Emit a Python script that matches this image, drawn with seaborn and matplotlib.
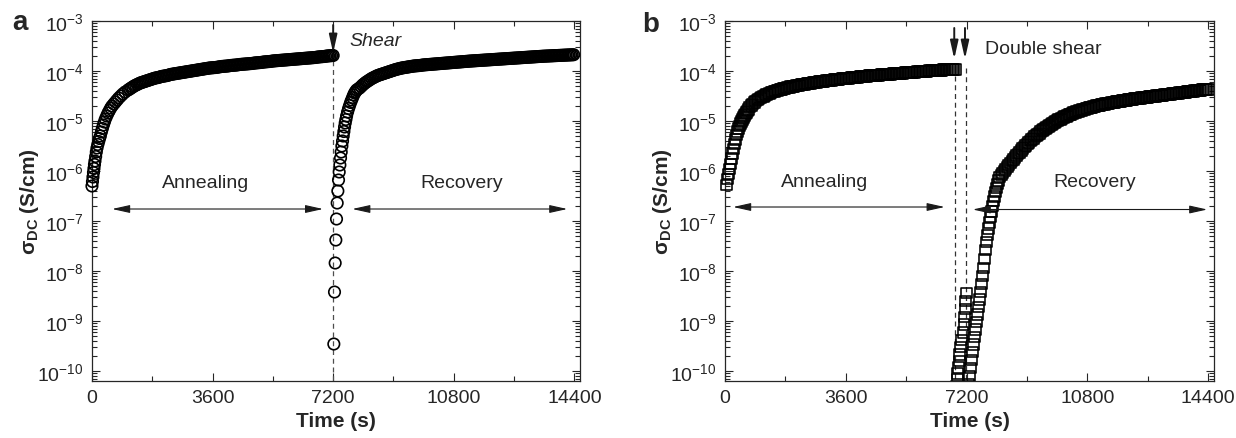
import numpy as np
import matplotlib
matplotlib.use("Agg")
import matplotlib.pyplot as plt
import seaborn as sns
from matplotlib.ticker import LogLocator, NullFormatter, MultipleLocator, LogFormatterSciNotation

sns.set_theme(style="ticks")
plt.rcParams["font.family"] = ["Liberation Sans", "DejaVu Sans"]
plt.rcParams["mathtext.fontset"] = "custom"
plt.rcParams["mathtext.rm"] = "Liberation Sans"
plt.rcParams["mathtext.bf"] = "Liberation Sans:bold"
plt.rcParams["mathtext.it"] = "Liberation Sans:italic"

# ---- data: log10 of sigma_DC (S/cm) ----

# panel a, annealing: early fine sampling, then every 45 s from 1080 s
a_anneal_t_early = [0, 15, 30, 45, 60, 75, 90, 110, 130, 150, 175, 200, 225, 250,
                    280, 310, 340, 370, 400, 440, 480, 520, 560, 600, 650, 700,
                    750, 800, 860, 920, 990]
a_anneal_log_early = [-6.30, -6.21, -6.12, -6.03, -5.95, -5.87, -5.80, -5.71, -5.62,
                      -5.54, -5.47, -5.41, -5.35, -5.30, -5.22, -5.15, -5.08, -5.02,
                      -4.96, -4.90, -4.84, -4.79, -4.74, -4.70, -4.66, -4.62, -4.58,
                      -4.54, -4.50, -4.46, -4.42]
a_anneal_grid_start = 1080
a_anneal_log_grid = [
    -4.380, -4.360, -4.340, -4.320, -4.300, -4.285, -4.270, -4.255, -4.240, -4.230,
    -4.220, -4.210, -4.200, -4.190, -4.180, -4.170, -4.160, -4.150, -4.140, -4.135,
    -4.130, -4.120, -4.110, -4.105, -4.100, -4.095, -4.090, -4.080, -4.070, -4.065,
    -4.060, -4.055, -4.050, -4.045, -4.040, -4.035, -4.030, -4.025, -4.020, -4.015,
    -4.010, -4.005, -4.000, -3.995, -3.990, -3.985, -3.980, -3.975, -3.970, -3.965,
    -3.960, -3.955, -3.950, -3.945, -3.940, -3.937, -3.935, -3.932, -3.930, -3.925,
    -3.920, -3.915, -3.910, -3.907, -3.905, -3.902, -3.900, -3.895, -3.890, -3.887,
    -3.885, -3.882, -3.880, -3.875, -3.870, -3.867, -3.865, -3.862, -3.860, -3.857,
    -3.855, -3.852, -3.850, -3.845, -3.840, -3.837, -3.835, -3.832, -3.830, -3.825,
    -3.820, -3.817, -3.815, -3.812, -3.810, -3.805, -3.800, -3.797, -3.795, -3.792,
    -3.790, -3.787, -3.785, -3.782, -3.780, -3.777, -3.775, -3.772, -3.770, -3.767,
    -3.765, -3.762, -3.760, -3.757, -3.755, -3.752, -3.750, -3.747, -3.745, -3.742,
    -3.740, -3.737, -3.735, -3.732, -3.730, -3.725, -3.720, -3.717, -3.715, -3.712,
    -3.710, -3.705, -3.700, -3.697, -3.695, -3.692, -3.690]

# panel a, recovery after the shear at 7200 s
a_rec_t_early = [7220, 7240, 7260, 7280, 7300, 7320, 7340, 7360, 7380, 7400, 7420,
                 7440, 7460, 7480, 7500, 7520, 7540, 7560, 7580, 7600, 7630, 7660,
                 7690, 7720, 7750, 7780, 7810, 7840, 7870, 7900]
a_rec_log_early = [-9.46, -8.42, -7.84, -7.38, -6.96, -6.64, -6.40, -6.18, -6.02,
                   -5.88, -5.74, -5.62, -5.50, -5.40, -5.30, -5.21, -5.12, -5.04,
                   -4.97, -4.90, -4.82, -4.75, -4.69, -4.63, -4.58, -4.53, -4.48,
                   -4.44, -4.41, -4.38]
a_rec_grid_start = 7945
a_rec_log_grid = [
    -4.360, -4.340, -4.310, -4.280, -4.255, -4.230, -4.210, -4.190, -4.170, -4.150,
    -4.135, -4.120, -4.105, -4.090, -4.080, -4.070, -4.060, -4.050, -4.040, -4.030,
    -4.020, -4.010, -4.000, -3.990, -3.980, -3.970, -3.962, -3.955, -3.947, -3.940,
    -3.935, -3.930, -3.925, -3.920, -3.915, -3.910, -3.905, -3.900, -3.897, -3.895,
    -3.892, -3.890, -3.885, -3.880, -3.877, -3.875,
    -3.872, -3.870, -3.867, -3.865, -3.862, -3.860, -3.857, -3.855, -3.852, -3.850,
    -3.847, -3.845, -3.842, -3.840, -3.837, -3.835, -3.832, -3.830, -3.827, -3.825,
    -3.822, -3.820, -3.817, -3.815, -3.812, -3.810, -3.807, -3.805, -3.802, -3.800,
    -3.798, -3.796, -3.794, -3.792, -3.790, -3.788, -3.786, -3.784, -3.782, -3.780,
    -3.778, -3.776, -3.774, -3.772, -3.770, -3.768, -3.766, -3.764, -3.762, -3.760,
    -3.758, -3.756, -3.754, -3.752, -3.750, -3.748, -3.746, -3.744, -3.742, -3.740,
    -3.738, -3.736, -3.734, -3.732, -3.730, -3.728, -3.726, -3.724, -3.722, -3.720,
    -3.718, -3.716, -3.714, -3.712, -3.710, -3.708, -3.706, -3.704,
    -3.703, -3.701, -3.700, -3.698, -3.697, -3.695, -3.694, -3.692, -3.691, -3.689,
    -3.688, -3.686, -3.685, -3.683, -3.682, -3.680, -3.679, -3.677, -3.676, -3.674]

# panel b, annealing: every 30 s from 40 s, then every 45 s from 740 s
b_anneal_early_start = 40
b_anneal_log_early = [-6.28, -6.16, -6.06, -5.96, -5.86, -5.75, -5.65, -5.56, -5.46,
                      -5.37, -5.28, -5.21, -5.15, -5.10, -5.05, -5.01, -4.97, -4.93,
                      -4.89, -4.86, -4.83, -4.80, -4.77]
b_anneal_grid_start = 740
b_anneal_log_grid = [
    -4.720, -4.690, -4.660, -4.630, -4.600, -4.580, -4.560, -4.540, -4.520, -4.505,
    -4.490, -4.475, -4.460, -4.445, -4.430, -4.420, -4.410, -4.400, -4.390, -4.380,
    -4.370, -4.362, -4.355, -4.347, -4.340, -4.332, -4.325, -4.317, -4.310, -4.305,
    -4.300, -4.292, -4.285, -4.280, -4.275, -4.270, -4.265, -4.260, -4.255, -4.250,
    -4.245, -4.240, -4.235, -4.230, -4.225, -4.220, -4.215, -4.212, -4.210, -4.205,
    -4.200, -4.195, -4.190, -4.187, -4.185, -4.180, -4.175, -4.172, -4.170, -4.165,
    -4.160, -4.157, -4.155, -4.152, -4.150, -4.145, -4.140, -4.137, -4.135, -4.132,
    -4.130, -4.125, -4.120, -4.117, -4.115, -4.112, -4.110, -4.105, -4.100, -4.097,
    -4.095, -4.092, -4.090,
    -4.088, -4.085, -4.083, -4.080, -4.078, -4.075, -4.073, -4.070, -4.068, -4.065,
    -4.063, -4.060, -4.058, -4.055, -4.053, -4.050, -4.048, -4.045, -4.043, -4.040,
    -4.038, -4.035, -4.033, -4.030, -4.028, -4.025, -4.023, -4.020, -4.018, -4.015,
    -4.013, -4.010, -4.008, -4.005, -4.003, -4.000, -3.998, -3.995,
    -3.993, -3.991, -3.989, -3.987, -3.985, -3.983, -3.981, -3.979, -3.977, -3.975,
    -3.973, -3.971, -3.969, -3.967, -3.965, -3.963]

# panel b, between the two shears
b_mid_t = [6880, 6900, 6920, 6940, 6960, 6980, 7000, 7030, 7060, 7090, 7120, 7140,
           7160, 7175, 7185]
b_mid_log = [-10.45, -10.30, -10.17, -10.05, -9.93, -9.80, -9.67, -9.52, -9.38,
             -9.23, -9.07, -8.92, -8.76, -8.60, -8.44]

# panel b, recovery after the second shear: every 30 s, then every 45 s from 8235 s
b_rec_early_start = 7200
b_rec_log_early = [
    -10.60, -10.42, -10.26, -10.10, -9.94, -9.78, -9.62, -9.47, -9.32, -9.17,
    -9.02, -8.87, -8.72, -8.57, -8.42, -8.26, -8.10, -7.94, -7.76, -7.58,
    -7.42, -7.28, -7.15, -7.03, -6.92, -6.81, -6.70, -6.60, -6.51, -6.42,
    -6.34, -6.26, -6.19, -6.12]
b_rec_grid_start = 8235
b_rec_log_grid = [
    -6.080, -6.040, -6.000, -5.960, -5.920, -5.880, -5.840, -5.800, -5.765, -5.730,
    -5.695, -5.660, -5.625, -5.590, -5.555, -5.520, -5.490, -5.460, -5.430, -5.400,
    -5.372, -5.345, -5.318, -5.292, -5.267, -5.242, -5.218, -5.195, -5.172, -5.150,
    -5.128, -5.107, -5.087, -5.067, -5.048, -5.030, -5.012, -4.995, -4.978, -4.962,
    -4.946, -4.931, -4.916, -4.902, -4.888, -4.875, -4.862, -4.850, -4.838, -4.827,
    -4.816, -4.805, -4.795, -4.785, -4.775, -4.766, -4.757, -4.748, -4.739, -4.731,
    -4.723, -4.715, -4.707, -4.699, -4.692, -4.685, -4.678, -4.671, -4.664, -4.658,
    -4.652, -4.646, -4.640, -4.634, -4.628, -4.622, -4.617, -4.612, -4.607, -4.602,
    -4.597, -4.592, -4.587, -4.582, -4.577, -4.572, -4.567, -4.563, -4.559, -4.555,
    -4.551, -4.547, -4.543, -4.539, -4.535, -4.531, -4.527, -4.523, -4.519, -4.515,
    -4.511, -4.507, -4.503, -4.499, -4.495, -4.491, -4.487, -4.483, -4.479, -4.475,
    -4.471, -4.467, -4.463, -4.459, -4.455, -4.451, -4.447, -4.443, -4.439, -4.435,
    -4.431, -4.427, -4.423, -4.419, -4.415, -4.411, -4.407, -4.403, -4.399, -4.395,
    -4.391, -4.387, -4.383, -4.379, -4.375, -4.372, -4.369, -4.366]

shear_a = 7200
shears_b = [6860, 7180]
x_ticks = [0, 3600, 7200, 10800, 14400]
y_decades = [-10, -9, -8, -7, -6, -5, -4, -3]


def grid_times(start, values, step):
    return start + step * np.arange(len(values))


a_t = np.concatenate([a_anneal_t_early, grid_times(a_anneal_grid_start, a_anneal_log_grid, 45)])
a_y = 10.0 ** np.array(a_anneal_log_early + a_anneal_log_grid)
a2_t = np.concatenate([a_rec_t_early, grid_times(a_rec_grid_start, a_rec_log_grid, 45)])
a2_y = 10.0 ** np.array(a_rec_log_early + a_rec_log_grid)

b_t = np.concatenate([grid_times(b_anneal_early_start, b_anneal_log_early, 30),
                      grid_times(b_anneal_grid_start, b_anneal_log_grid, 45)])
b_y = 10.0 ** np.array(b_anneal_log_early + b_anneal_log_grid)
bm_t = np.array(b_mid_t)
bm_y = 10.0 ** np.array(b_mid_log)
b3_t = np.concatenate([grid_times(b_rec_early_start, b_rec_log_early, 30),
                       grid_times(b_rec_grid_start, b_rec_log_grid, 45)])
b3_y = 10.0 ** np.array(b_rec_log_early + b_rec_log_grid)

# ---- figure ----
fig = plt.figure(figsize=(12.36, 4.39), dpi=100)
ax_a = fig.add_axes([0.0744, 0.1298, 0.3949, 0.8201])
ax_b = fig.add_axes([0.5866, 0.1298, 0.3956, 0.8201])

ymin, ymax = 10 ** -10.2, 1e-3


def style_axis(ax):
    ax.set_yscale("log")
    ax.set_xlim(0, 14570)
    ax.set_ylim(ymin, ymax)
    ax.set_xticks(x_ticks)
    ax.xaxis.set_minor_locator(MultipleLocator(1800))
    ax.set_yticks([10.0 ** k for k in y_decades])
    ax.yaxis.set_major_formatter(LogFormatterSciNotation())
    ax.yaxis.set_minor_locator(LogLocator(base=10, subs=np.arange(2, 10), numticks=20))
    ax.yaxis.set_minor_formatter(NullFormatter())
    ax.set_ylim(ymin, ymax)
    ax.tick_params(which="both", direction="in", top=True, right=True,
                   labelsize=14, color="0.15", width=0.8)
    ax.tick_params(which="major", length=6, pad=6)
    ax.tick_params(which="minor", length=3.5)
    for sp in ax.spines.values():
        sp.set_linewidth(0.9)
        sp.set_color("0.15")
    ax.set_xlabel("Time (s)", fontsize=15, fontweight="bold", labelpad=3)
    ax.set_ylabel(r"$\mathbf{\sigma}_{\mathbf{DC}}$ (S/cm)", fontsize=15, fontweight="bold")
    ax.yaxis.set_label_coords(-0.105, 0.5)


style_axis(ax_a)
style_axis(ax_b)

circ = dict(marker="o", s=68, facecolor="none", edgecolor="black", linewidth=1.2, zorder=3)
sq = dict(marker="s", s=62, facecolor="none", edgecolor="black", linewidth=1.15, zorder=3)

# panel a
ax_a.plot([shear_a, shear_a], [10 ** -3.62, ymin], ls=(0, (4, 3)), color="0.3", lw=0.9, zorder=1)
sns.scatterplot(x=a_t, y=a_y, ax=ax_a, clip_on=False, **circ)
sns.scatterplot(x=a2_t, y=a2_y, ax=ax_a, clip_on=False, **circ)

arrow2 = dict(arrowstyle="<|-|>,head_length=0.9,head_width=0.2", color="0.1", lw=0.8,
              mutation_scale=12, shrinkA=0, shrinkB=0)
arrow1 = dict(arrowstyle="-|>,head_length=0.9,head_width=0.2", color="0.1", lw=1.4,
              mutation_scale=12, shrinkA=0, shrinkB=0)

ax_a.annotate("", xy=(600, 10 ** -6.76), xytext=(6900, 10 ** -6.76), arrowprops=arrow2)
ax_a.annotate("", xy=(7770, 10 ** -6.76), xytext=(14190, 10 ** -6.76), arrowprops=arrow2)
ax_a.annotate("", xy=(shear_a, 10 ** -3.64), xytext=(shear_a, 10 ** -3.08), arrowprops=arrow1)
ax_a.text(3380, 10 ** -6.22, "Annealing", fontsize=14, ha="center", va="center")
ax_a.text(11050, 10 ** -6.22, "Recovery", fontsize=14, ha="center", va="center")
ax_a.text(7680, 10 ** -3.4, "Shear", fontsize=14, style="italic", ha="left", va="center")

# panel b
ax_b.plot([shears_b[0]] * 2, [10 ** -4.1, ymin], ls=(0, (4, 3)), color="0.2", lw=0.9, zorder=1)
ax_b.plot([shears_b[1]] * 2, [10 ** -3.95, ymin], ls=(0, (4, 3)), color="0.2", lw=0.9, zorder=1)
sns.scatterplot(x=b_t, y=b_y, ax=ax_b, clip_on=False, **sq)
sns.scatterplot(x=bm_t, y=bm_y, ax=ax_b, **sq)
sns.scatterplot(x=b3_t, y=b3_y, ax=ax_b, **sq)

ax_b.annotate("", xy=(240, 10 ** -6.72), xytext=(6545, 10 ** -6.72), arrowprops=arrow2)
ax_b.annotate("", xy=(7380, 10 ** -6.77), xytext=(14370, 10 ** -6.77), arrowprops=arrow2)
for sx in shears_b:
    ax_b.annotate("", xy=(sx - 30, 10 ** -3.76), xytext=(sx - 30, 10 ** -3.14), arrowprops=arrow1)
ax_b.text(2975, 10 ** -6.2, "Annealing", fontsize=14, ha="center", va="center")
ax_b.text(11000, 10 ** -6.2, "Recovery", fontsize=14, ha="center", va="center")
ax_b.text(7735, 10 ** -3.56, "Double shear", fontsize=14, ha="left", va="center")

fig.text(12 / 1236, 1 - 30 / 439, "a", fontsize=20, fontweight="bold", va="baseline")
fig.text(642 / 1236, 1 - 32 / 439, "b", fontsize=20, fontweight="bold", va="baseline")

fig.savefig("out.png", dpi=100, facecolor="white")
